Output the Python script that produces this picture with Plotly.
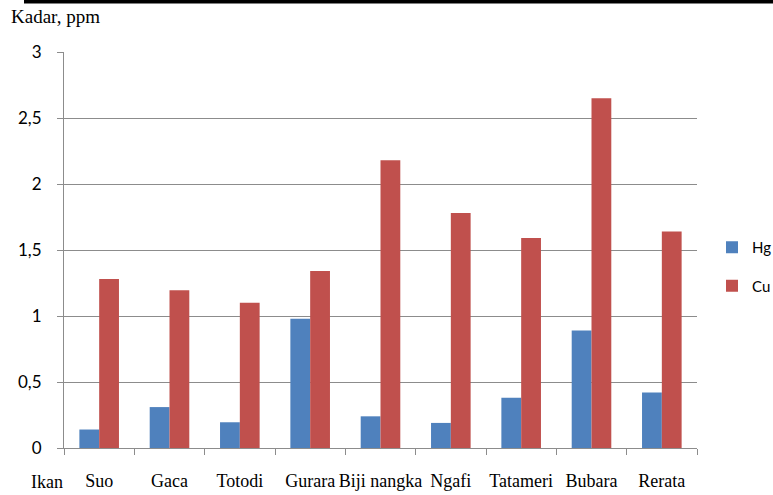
import plotly.graph_objects as go

categories = ["Suo", "Gaca", "Totodi", "Gurara", "Biji nangka", "Ngafi", "Tatameri", "Bubara", "Rerata"]
hg = [0.14, 0.31, 0.195, 0.98, 0.24, 0.19, 0.38, 0.89, 0.42]
cu = [1.28, 1.195, 1.10, 1.34, 2.18, 1.78, 1.59, 2.65, 1.64]
y_ticks = [0, 0.5, 1, 1.5, 2, 2.5, 3]

W, H = 773, 495
L, R, T, B = 64, 76, 52, 47
pw, ph = W - L - R, H - T - B

def px(x):
    return (x - L) / pw

def py(y):
    return (H - B - y) / ph

fig = go.Figure()
fig.add_trace(go.Bar(name="Hg", x=categories, y=hg, marker=dict(color="#4F81BD", line=dict(width=0)), legendgroup="a"))
fig.add_trace(go.Bar(name="Cu", x=categories, y=cu, marker=dict(color="#C0504D", line=dict(width=0)), legendgroup="b"))

grid = "#8C8C8C"
fig.update_layout(
    width=W, height=H,
    margin=dict(l=L, r=R, t=T, b=B, autoexpand=False),
    paper_bgcolor="white", plot_bgcolor="white",
    barmode="group", bargap=0.437, bargroupgap=0,
    separators=",.",
    showlegend=True,
    legend=dict(x=px(712), y=py(231), xanchor="left", yanchor="top",
                font=dict(family="Lato", size=15, color="#000000"),
                tracegroupgap=16, traceorder="grouped", bgcolor="rgba(0,0,0,0)"),
    xaxis=dict(type="category", showgrid=False, showline=True, linecolor=grid, linewidth=1,
               ticks="outside", tickson="boundaries", ticklen=6, tickcolor=grid, tickwidth=1,
               tickfont=dict(family="Liberation Serif", size=18, color="#000000"),
               tickangle=0, ticklabelstandoff=16, range=[-0.5, 8.5]),
    yaxis=dict(range=[0, 3], tickvals=y_ticks, showgrid=True, gridcolor=grid, gridwidth=1,
               showline=True, linecolor=grid, linewidth=1, zeroline=False,
               ticks="outside", ticklen=6, tickcolor=grid, tickwidth=1,
               tickfont=dict(family="Lato", size=17, color="#000000"),
               ticklabelstandoff=12),
    annotations=[
        dict(text="Kadar, ppm", xref="paper", yref="paper", x=px(9), y=py(17), xanchor="left", yanchor="middle",
             showarrow=False, font=dict(family="Liberation Serif", size=19, color="#000000")),
        dict(text="Ikan", xref="paper", yref="paper", x=px(29), y=py(482), xanchor="left", yanchor="middle",
             showarrow=False, font=dict(family="Liberation Serif", size=18, color="#000000")),
    ],
    shapes=[
        dict(type="rect", xref="paper", yref="paper", x0=px(24), x1=px(775), y0=py(3.5), y1=py(-1),
             fillcolor="black", line=dict(width=0)),
    ],
)

fig.write_html("out.html", config={"displayModeBar": False},
               post_script="document.body.style.margin='0px';")
